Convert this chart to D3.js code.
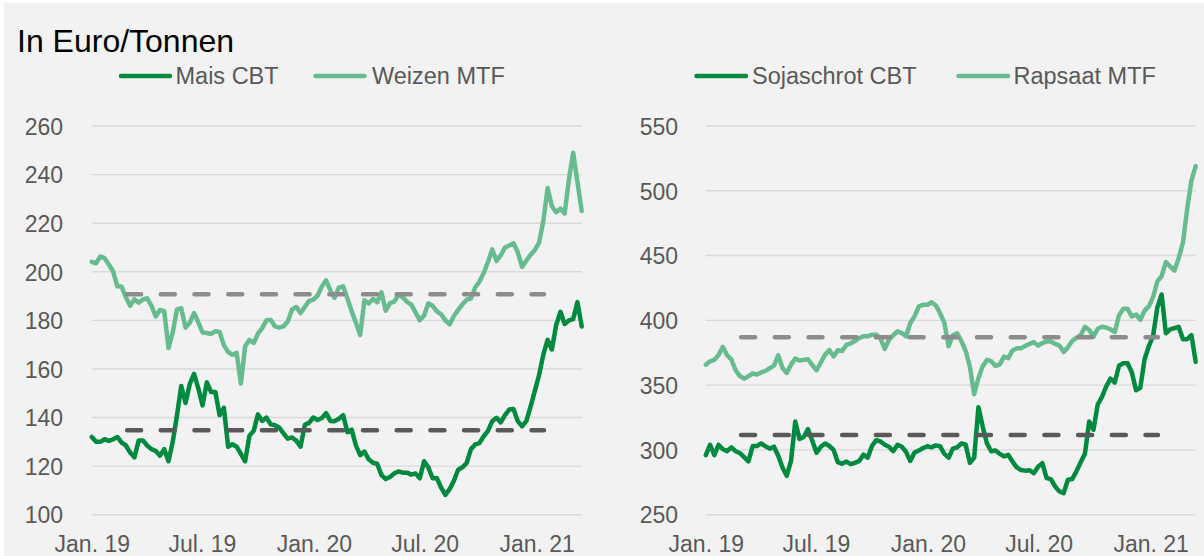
<!DOCTYPE html>
<html>
<head>
<meta charset="utf-8">
<script src="https://cdn.jsdelivr.net/npm/d3@7"></script>
<style>
  html, body { margin: 0; padding: 0; background: #ffffff; }
  svg { display: block; font-family: "Liberation Sans", Arial, sans-serif; }
</style>
</head>
<body>
<svg id="chart" width="1204" height="556"></svg>
<script>
// ---------- data ----------
const startDate = "2019-01-01";          // first weekly observation
const stepDays = 7;                       // weekly observations
const domainEnd = "2021-03-16";

const tickDates  = ["2019-01-01", "2019-07-01", "2020-01-01", "2020-07-01", "2021-01-01"];
const tickLabels = ["Jan. 19", "Jul. 19", "Jan. 20", "Jul. 20", "Jan. 21"];

const leftTicks  = [100, 120, 140, 160, 180, 200, 220, 240, 260];
const rightTicks = [250, 300, 350, 400, 450, 500, 550];

const seriesNames = ["Mais CBT", "Weizen MTF", "Sojaschrot CBT", "Rapsaat MTF"];

const maisValues = [132,130,130,131.1,130.4,131,132,129.7,128.5,125.6,123.6,130.5,130.5,128.5,127,126.3,124.3,127,122,130,
  141,153,146,153.8,158,152,145,154.5,150.5,150.5,141,144,128,129,128,125,122,132.5,134.5,141.3,
  138.6,140,137.2,136.8,135.8,133.5,131.3,131.8,130.5,128,137,137.8,140,139,139.8,141.8,138.6,138.5,
  139.5,141,134,135,128.5,124.5,126,122.8,121.4,121,116.3,114.7,115.5,117,117.8,117.3,117.3,116.5,117,115,
  122,119.5,115,115,111.2,108.2,110.5,114,118.5,119.5,121.3,127,128.9,129.5,132.3,134.5,138.5,139.9,138,141,
  143.3,143.5,138.5,136.4,138.5,144.5,151,157.5,166,172,168,178,183.5,178.5,180,180.5,187.5,177.5];

const weizenValues = [204.1,203.5,206.3,205.6,203,200.2,194,193.9,189.5,186,188.7,187.3,188.6,189.1,186,181.6,184.3,183.8,168.6,175,
  184.5,185,177,179,183,179.2,175,174.8,174.4,175.5,175.2,169.8,167,165.8,166.6,154,169.3,172,170.7,174.5,
  176.8,180,180.2,177.5,177,177.5,179.5,184.5,185.5,183,185.5,188,188.5,190.2,193.9,196.5,192.3,189.3,
  193.5,194,189,183.7,179,174,188.3,187,188.8,187.5,191.5,184,187.1,187.7,190.5,189.5,187.6,186.5,183.3,180,
  182,187,186,183.7,182.5,180,178.3,181.8,184.3,186.6,188.5,189,193.5,196,199.5,204,209.2,204.5,206.8,210,
  210.8,211.7,208,202,204.5,207,209,212,221,234.5,227,224.5,226,224,238,249,237,225];

const sojaValues = [296,304,296,304,300.5,299,302,299,297.6,294.5,291.2,303,303,305,302.8,301,302.5,295.5,286.5,280,
  291.5,322,308.5,310,316,307,297.8,302.5,305,303,300,290.5,289.3,291,289,290,291.5,296.3,294,303,
  307.5,306.5,304,302.5,299,304,302.5,298.5,291.5,298,299.5,301.5,302.8,302,303.5,302.8,297,294,
  301,302,305,304,290,294,333,318,305,299,299.5,297,295,296.2,291,286.6,284.5,284,284.3,282,
  287,289.8,278.3,277.5,271.8,268,266.7,277,277.5,283.5,290.5,297,322,315.6,335,341,349,355,352,365,
  366.9,366.9,360,346,348,370,380,388,410,420,390,393,394,395,385.5,385.5,388.5,368];

const rapsValues = [365.8,368.4,369.5,373.3,379.5,373,369.8,361.5,357,355,356.8,359,358.2,359.8,361,363,365,373,363.2,359.4,
  365.8,370.5,369,369.5,370,365.5,361.5,367.5,373.5,377,372.2,377,376.3,381,382.2,384,386.4,387.7,387.7,388.9,
  388.9,386,378,385,388.5,391.5,390.2,387.7,397.9,403,410.8,412,412,414,411.5,405.5,398,380,
  388.5,390,384,376.5,364,343,355.5,364.5,369.5,368.5,364.8,366,372,370.8,376.8,378.5,378.5,380.3,381.8,383.2,
  380.5,382.5,383.7,383.7,381.8,380.5,375.5,379.3,384,386.5,388.5,395,392.5,387.5,393.5,395,394.5,393,391,404,
  409,409,403,404.5,400.5,407.5,410.8,418,430,434.2,445,441.5,438.5,448,460,486,508,519];

// average reference lines (dashed)
const avgPeriod = ["2019-02-28", "2021-01-13"];
const leftAverages  = [190.7, 134.8];   // Weizen, Mais
const rightAverages = [386.9, 311.5];   // Rapsaat, Soja

// ---------- rendering ----------
const parse = d3.timeParse("%Y-%m-%d");
const t0 = parse(startDate);
const dates = maisValues.map((_, i) => d3.timeDay.offset(t0, i * stepDays));

const DARK = "#008A3F", LIGHT = "#67BC8F";
const GRID = "#D9D9D9", TXT = "#595959";

const svg = d3.select("#chart");
svg.append("rect").attr("x", 4).attr("y", 3).attr("width", 1200).attr("height", 553).attr("fill", "#F2F2F2");

svg.append("text").attr("x", 17).attr("y", 52)
  .attr("font-size", 32).attr("fill", "#000").text("In Euro/Tonnen");

function panel(opt) {
  const x = d3.scaleTime().domain([parse(startDate), parse(domainEnd)]).range([opt.x0, opt.x1]);
  const y = d3.scaleLinear().domain(opt.yDomain).range([opt.yBottom, opt.yTop]);
  const g = svg.append("g");

  // gridlines
  g.append("g").selectAll("line").data(opt.ticks).join("line")
    .attr("x1", opt.x0).attr("x2", opt.x1)
    .attr("y1", d => y(d)).attr("y2", d => y(d))
    .attr("stroke", GRID).attr("stroke-width", 1.4);

  // y axis labels
  const ya = g.append("g").attr("transform", `translate(${opt.labelRight},0)`)
    .call(d3.axisLeft(y).tickValues(opt.ticks).tickSize(0).tickPadding(0).tickFormat(d3.format("d")));
  ya.select(".domain").remove();
  ya.selectAll("text").attr("font-size", 23).attr("fill", TXT)
    .attr("font-family", "'Liberation Sans', Arial, sans-serif").attr("dy", "0.36em");

  // x axis labels
  const xa = g.append("g").attr("transform", `translate(0,${opt.yBottom})`)
    .call(d3.axisBottom(x).tickValues(tickDates.map(parse)).tickSize(0).tickPadding(0)
      .tickFormat((d, i) => tickLabels[i]));
  xa.select(".domain").remove();
  xa.selectAll("text").attr("font-size", 23).attr("fill", TXT)
    .attr("font-family", "'Liberation Sans', Arial, sans-serif").attr("dy", null).attr("y", 37);

  const line = d3.line().x((d, i) => x(dates[i])).y(d => y(d));

  g.append("path").datum(opt.lightValues).attr("d", line)
    .attr("fill", "none").attr("stroke", LIGHT).attr("stroke-width", 4.5)
    .attr("stroke-linejoin", "round").attr("stroke-linecap", "round");
  g.append("path").datum(opt.darkValues).attr("d", line)
    .attr("fill", "none").attr("stroke", DARK).attr("stroke-width", 4.5)
    .attr("stroke-linejoin", "round").attr("stroke-linecap", "round");

  // averages
  const avgCols = ["#8C8C8C", "#595959"];
  opt.averages.forEach((v, k) => {
    g.append("line")
      .attr("x1", x(parse(avgPeriod[0]))).attr("x2", x(parse(avgPeriod[1])))
      .attr("y1", y(v)).attr("y2", y(v))
      .attr("stroke", avgCols[k]).attr("stroke-width", 4.5)
      .attr("stroke-linecap", "round").attr("stroke-dasharray", "14 19.7");
  });

  // legend
  const lg = g.append("g");
  opt.legend.forEach(item => {
    lg.append("line").attr("x1", item.lx0).attr("x2", item.lx1).attr("y1", 76).attr("y2", 76)
      .attr("stroke", item.color).attr("stroke-width", 4.5).attr("stroke-linecap", "round");
    lg.append("text").attr("x", item.tx).attr("y", 84).attr("font-size", 23.5).attr("fill", TXT).text(item.name);
  });
}

panel({
  x0: 91.8, x1: 581.7, yTop: 126, yBottom: 514.7, yDomain: [100, 260], ticks: leftTicks,
  labelRight: 63, darkValues: maisValues, lightValues: weizenValues, averages: leftAverages,
  legend: [
    { name: seriesNames[0], color: DARK, lx0: 121, lx1: 170, tx: 175.5 },
    { name: seriesNames[1], color: LIGHT, lx0: 315.5, lx1: 364.5, tx: 372 }
  ]
});

panel({
  x0: 705.8, x1: 1195.7, yTop: 126, yBottom: 514.7, yDomain: [250, 550], ticks: rightTicks,
  labelRight: 678, darkValues: sojaValues, lightValues: rapsValues, averages: rightAverages,
  legend: [
    { name: seriesNames[2], color: DARK, lx0: 696.5, lx1: 746, tx: 752 },
    { name: seriesNames[3], color: LIGHT, lx0: 958.5, lx1: 1008, tx: 1013.5 }
  ]
});
</script>
</body>
</html>
